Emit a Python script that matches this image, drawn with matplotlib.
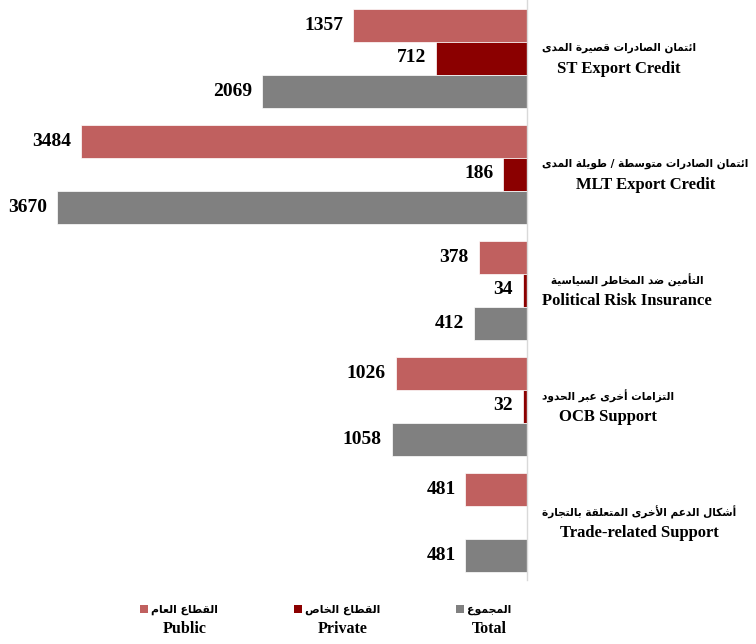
import matplotlib
matplotlib.use("Agg")
import matplotlib.pyplot as plt
from matplotlib.patches import Patch

# ---------------- data ----------------
categories_ar = [
    "ائتمان الصادرات قصيرة المدى",
    "ائتمان الصادرات متوسطة / طويلة المدى",
    "التأمين ضد المخاطر السياسية",
    "التزامات أخرى عبر الحدود",
    "أشكال الدعم الأخرى المتعلقة بالتجارة",
]
categories_en = [
    "ST Export Credit",
    "MLT Export Credit",
    "Political Risk Insurance",
    "OCB Support",
    "Trade-related Support",
]
public = [1357, 3484, 378, 1026, 481]
private = [712, 186, 34, 32, 0]
total = [2069, 3670, 412, 1058, 481]
legend_ar = ["القطاع العام", "القطاع الخاص", "المجموع"]
legend_en = ["Public", "Private", "Total"]

# ---------------- simple Arabic shaping ----------------
_tbl = [
    ("\u0622", 0xFE81, False), ("\u0623", 0xFE83, False), ("\u0624", 0xFE85, False),
    ("\u0625", 0xFE87, False), ("\u0626", 0xFE89, True), ("\u0627", 0xFE8D, False),
    ("\u0628", 0xFE8F, True), ("\u0629", 0xFE93, False), ("\u062A", 0xFE95, True),
    ("\u062B", 0xFE99, True), ("\u062C", 0xFE9D, True), ("\u062D", 0xFEA1, True),
    ("\u062E", 0xFEA5, True), ("\u062F", 0xFEA9, False), ("\u0630", 0xFEAB, False),
    ("\u0631", 0xFEAD, False), ("\u0632", 0xFEAF, False), ("\u0633", 0xFEB1, True),
    ("\u0634", 0xFEB5, True), ("\u0635", 0xFEB9, True), ("\u0636", 0xFEBD, True),
    ("\u0637", 0xFEC1, True), ("\u0638", 0xFEC5, True), ("\u0639", 0xFEC9, True),
    ("\u063A", 0xFECD, True), ("\u0641", 0xFED1, True), ("\u0642", 0xFED5, True),
    ("\u0643", 0xFED9, True), ("\u0644", 0xFEDD, True), ("\u0645", 0xFEE1, True),
    ("\u0646", 0xFEE5, True), ("\u0647", 0xFEE9, True), ("\u0648", 0xFEED, False),
    ("\u0649", 0xFEEF, False), ("\u064A", 0xFEF1, True),
]
FORMS = {c: (s, d) for c, s, d in _tbl}
LAMALEF = {"\u0622": 0xFEF5, "\u0623": 0xFEF7, "\u0625": 0xFEF9, "\u0627": 0xFEFB}


def shape(text):
    toks = []
    i = 0
    while i < len(text):
        c = text[i]
        if c == "\u0644" and i + 1 < len(text) and text[i + 1] in LAMALEF:
            toks.append(("LA", text[i + 1]))
            i += 2
        else:
            toks.append(("C", c))
            i += 1

    def is_letter(t):
        return t is not None and (t[0] == "LA" or t[1] in FORMS)

    def joins_next(t):
        return t is not None and t[0] == "C" and t[1] in FORMS and FORMS[t[1]][1]

    out = []
    for k, t in enumerate(toks):
        prev = toks[k - 1] if k > 0 else None
        nxt = toks[k + 1] if k + 1 < len(toks) else None
        cp = joins_next(prev)
        if t[0] == "LA":
            out.append(chr(LAMALEF[t[1]] + (1 if cp else 0)))
            continue
        c = t[1]
        if c not in FORMS:
            out.append(c)
            continue
        start, dual = FORMS[c]
        cn = dual and is_letter(nxt)
        off = 3 if (cp and cn) else 1 if cp else 2 if cn else 0
        out.append(chr(start + off))
    return "".join(reversed(out))


# ---------------- figure ----------------
FONT = ["Liberation Serif", "DejaVu Sans"]
AR_FONT = ["DejaVu Sans"]
W, H = 756, 644
DPI = 100
PT = 72 / DPI  # points per pixel
fig = plt.figure(figsize=(W / DPI, H / DPI), dpi=DPI)
ax = fig.add_axes([15 / W, 64 / H, 512 / W, 580 / H])

c_pub, c_pri, c_tot = "#C0605F", "#8B0000", "#808080"
n = len(categories_en)
ys = list(range(n))
off = 33 / 116
h = 33 / 116

ax.barh([y - off for y in ys], public, height=h, color=c_pub, edgecolor="white", linewidth=0.5)
ax.barh(ys, private, height=h, color=c_pri, edgecolor="white", linewidth=0.5)
ax.barh([y + off for y in ys], total, height=h, color=c_tot, edgecolor="white", linewidth=0.5)

ax.set_xlim(4000, 0)
ax.set_ylim(n - 0.5, -0.5)
ax.set_xticks([])
ax.set_yticks([])
for s in ["top", "left", "bottom"]:
    ax.spines[s].set_visible(False)
ax.spines["right"].set_color("#D9D9D9")
ax.spines["right"].set_linewidth(1.0)

for vals, dy in [(public, -off), (private, 0), (total, off)]:
    for y, v in zip(ys, vals):
        if v > 0:
            ax.annotate(f"{v}", xy=(v, y + dy), xytext=(-7, 0), textcoords="offset points",
                        ha="right", va="center", fontsize=14, fontweight="bold",
                        family=FONT, color="black")

# category labels (Arabic line above English line, block left-aligned, lines centred)
ar_texts, en_texts = [], []
for y, ar, en in zip(ys, categories_ar, categories_en):
    ta = ax.annotate(shape(ar), xy=(1, y), xycoords=("axes fraction", "data"),
                     xytext=(0, 10 * PT), textcoords="offset points", ha="center", va="center",
                     fontsize=10, fontweight="bold", family=AR_FONT, annotation_clip=False)
    te = ax.annotate(en, xy=(1, y), xycoords=("axes fraction", "data"),
                     xytext=(0, -11 * PT), textcoords="offset points", ha="center", va="center",
                     fontsize=12, fontweight="bold", family=FONT, annotation_clip=False)
    ar_texts.append(ta)
    en_texts.append(te)

fig.canvas.draw()
r = fig.canvas.get_renderer()
widths = [ta.get_window_extent(r).width for ta in ar_texts]
scale = min(163 / widths[0], 208 / max(widths))
for ta in ar_texts:
    ta.set_fontsize(10 * scale)
fig.canvas.draw()
for ta, te in zip(ar_texts, en_texts):
    bw = max(ta.get_window_extent(r).width, te.get_window_extent(r).width)
    cx = (15 + bw / 2) * PT
    ta.set_position((cx, 10 * PT))
    te.set_position((cx, -11 * PT))

# legend
handles = [Patch(facecolor=c_pub), Patch(facecolor=c_pri), Patch(facecolor=c_tot)]
leg_size = 11 * 66 / 93
leg_px = leg_size / PT
leg = fig.legend(handles, [shape(t) for t in legend_ar], loc="center",
                 bbox_to_anchor=(326 / W, 1 - 610 / H), ncol=3, frameon=False,
                 handlelength=8 / leg_px, handleheight=8 / leg_px, handletextpad=3 / leg_px,
                 columnspacing=76 / leg_px,
                 prop={"family": AR_FONT, "weight": "bold", "size": leg_size})

fig.canvas.draw()
inv = fig.transFigure.inverted()
for t, en in zip(leg.get_texts(), legend_en):
    bb = t.get_window_extent(r)
    cx = (bb.x0 + bb.x1) / 2
    fx, _ = inv.transform((cx, 0))
    fig.text(fx, 1 - 629 / H, en, ha="center", va="center", fontsize=11.5,
             fontweight="bold", family=FONT)

fig.savefig("out.png", dpi=DPI)
